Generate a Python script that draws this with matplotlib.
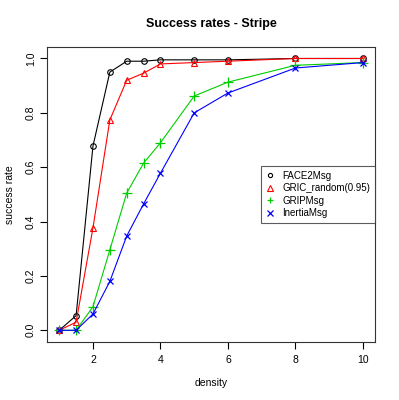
import matplotlib
matplotlib.use('Agg')
import matplotlib.pyplot as plt

plt.rcParams['font.family'] = ['Liberation Sans', 'DejaVu Sans']

density = [1, 1.5, 2, 2.5, 3, 3.5, 4, 5, 6, 8, 10]
face2 = [0.0, 0.054, 0.678, 0.950, 0.990, 0.990, 0.995, 0.995, 0.995, 1.0, 1.0]
gric = [0.0, 0.03, 0.377, 0.774, 0.920, 0.946, 0.980, 0.985, 0.990, 1.0, 1.0]
grip = [0.0, 0.0, 0.087, 0.296, 0.505, 0.615, 0.690, 0.862, 0.913, 0.975, 0.985]
inertia = [0.0, 0.0, 0.060, 0.180, 0.347, 0.465, 0.578, 0.800, 0.873, 0.965, 0.985]

fig = plt.figure(figsize=(3.99, 4.0), dpi=100)
ax = fig.add_axes([0.118, 0.145, 0.822, 0.738])

ax.plot(density, face2, color='black', marker='o', mfc='none', ms=4, mew=0.8, lw=0.8, label='FACE2Msg')
ax.plot(density, gric, color='red', marker='^', mfc='none', ms=5, mew=0.8, lw=0.8, label='GRIC_random(0.95)')
ax.plot(density, grip, color='#00CD00', marker='+', ms=6.5, mew=0.9, lw=0.8, label='GRIPMsg')
ax.plot(density, inertia, color='blue', marker='x', ms=5, mew=0.9, lw=0.8, label='InertiaMsg')

ax.set_xlim(0.64, 10.36)
ax.set_ylim(-0.043, 1.043)
ax.set_xticks([2, 4, 6, 8, 10])
ax.set_yticks([0.0, 0.2, 0.4, 0.6, 0.8, 1.0])
ax.set_yticklabels(['0.0', '0.2', '0.4', '0.6', '0.8', '1.0'], rotation=90, va='center')
ax.tick_params(direction='out', length=5, labelsize=7.5, width=0.8, colors='black')
ax.tick_params(axis='x', pad=4.4)
ax.tick_params(axis='y', pad=3)
for s in ax.spines.values():
    s.set_linewidth(0.8)
    s.set_color('#333333')

ax.set_xlabel('density', fontsize=7.5, labelpad=9.5)
ax.set_ylabel('success rate', fontsize=7.5, labelpad=8)
ax.set_title('Success rates - Stripe', fontsize=9, fontweight='bold', pad=14)

leg = ax.legend(loc='center right', bbox_to_anchor=(1.0, 0.5), fontsize=7, frameon=True,
                fancybox=False, edgecolor='#333333', handlelength=0.8, handletextpad=0.9,
                borderpad=0.5, labelspacing=0.25, borderaxespad=0.0, markerscale=0.75)
leg.get_frame().set_linewidth(0.8)
for h in leg.get_lines():
    h.set_linestyle('none')

fig.savefig('out.png', dpi=100)
